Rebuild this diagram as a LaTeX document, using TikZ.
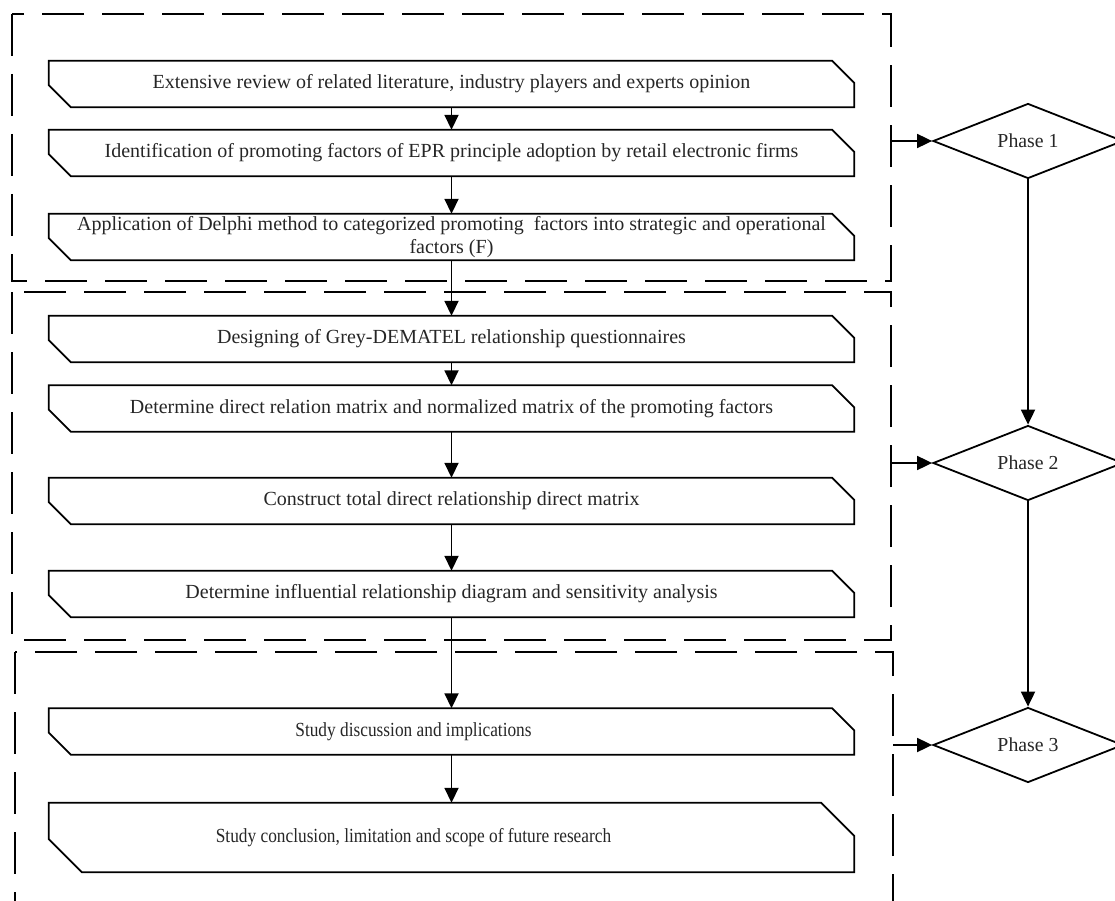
\documentclass[tikz,border=0pt]{standalone}
\usepackage{fontspec}
\setmainfont{Liberation Serif}
\newfontfamily\narrowserif{Liberation Serif}[FakeStretch=0.866]
\usetikzlibrary{arrows.meta,shapes.geometric}

\begin{document}
\begin{tikzpicture}[x=1pt,y=-1pt]
   \tikzstyle{every node}=[inner sep=0pt, text=black!85]
   \tikzstyle{stepbox}=[minimum width=805pt, minimum height=46pt, align=center, font=\fontsize{20}{23}\selectfont]
   \tikzstyle{narrowstep}=[stepbox, font=\narrowserif\fontsize{20}{23}\selectfont]
   \tikzstyle{phase}=[diamond, draw, line width=1.8pt, minimum width=190pt, minimum height=70pt, font=\fontsize{19.8}{22}\selectfont]
   \tikzstyle{group}=[line width=2.4pt, dash pattern=on 42pt off 18pt]
   \tikzstyle{arr}=[line width=1.8pt, -{Triangle[length=15pt,width=14pt]}]

\useasboundingbox (0,0) rectangle (1115,901);

% phase groups
\draw[group] (12,14) rectangle (891,281);
\draw[group] (12,292) rectangle (891,640);
\draw[group] (15,652) rectangle (893,915);

% steps
\node[stepbox] (lit) at (451.5,84) {Extensive review of related literature, industry players and experts opinion};
\node[stepbox] (ident) at (451.5,153) {Identification of promoting factors of EPR principle adoption by retail electronic firms};
\node[stepbox] (delphi) at (451.5,237) {Application of Delphi method to categorized promoting\ \ factors into strategic and operational\\factors (F)};
\node[stepbox] (design) at (451.5,339) {Designing of Grey-DEMATEL relationship questionnaires};
\node[stepbox] (direct) at (451.5,408.5) {Determine direct relation matrix and normalized matrix of the promoting factors};
\node[stepbox] (total) at (451.5,501) {Construct total direct relationship direct matrix};
\node[stepbox] (influ) at (451.5,594) {Determine influential relationship diagram and sensitivity analysis};
\node[narrowstep] (discuss) at (451.5,731.5) {Study discussion and implications\hspace*{76pt}};
\node[narrowstep, minimum height=69pt] (concl) at (451.5,837.5) {Study conclusion, limitation and scope of future research\hspace*{76pt}};

\foreach \n/\c in {lit/22,ident/22,delphi/22,design/22,direct/22,total/22,influ/22,discuss/22,concl/33}
   \draw[line width=1.8pt] (\n.north west) -- ([xshift=-\c pt]\n.north east) -- ([yshift=-\c pt]\n.north east)
      -- (\n.south east) -- ([xshift=\c pt]\n.south west) -- ([yshift=\c pt]\n.south west) -- cycle;

\foreach \a/\b in {lit/ident,ident/delphi,delphi/design,design/direct,direct/total,total/influ,influ/discuss,discuss/concl}
   \draw[arr] (\a.south) -- (\b.north);

% phases
\node[phase] (ph1) at (1028,141) {Phase 1};
\node[phase] (ph2) at (1028,463) {Phase 2};
\node[phase] (ph3) at (1028,745) {Phase 3};

\coordinate (g1) at (891,141);
\coordinate (g2) at (891,463);
\coordinate (g3) at (893,745);

\draw[arr] (g1) -- (ph1.west);
\draw[arr] (g2) -- (ph2.west);
\draw[arr] (g3) -- (ph3.west);
\draw[arr] (ph1.south) -- (ph2.north);
\draw[arr] (ph2.south) -- (ph3.north);

\end{tikzpicture}
\end{document}
